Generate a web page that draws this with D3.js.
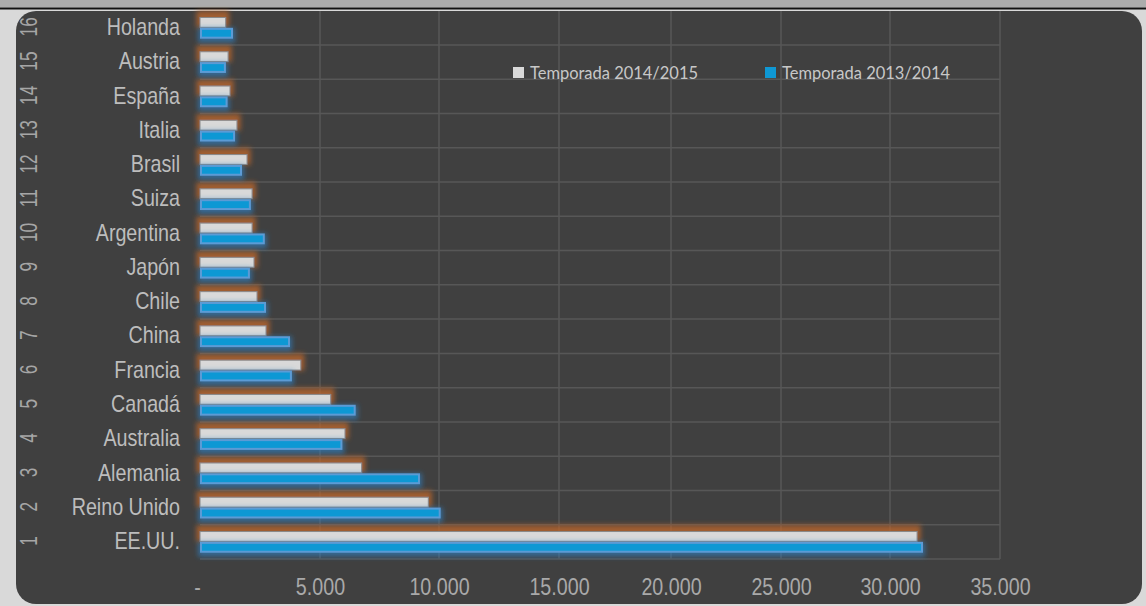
<!DOCTYPE html>
<html><head><meta charset="utf-8">
<script src="https://cdn.jsdelivr.net/npm/d3@7"></script>
<style>
html,body{margin:0;padding:0;background:#d9d9d9;}
svg{display:block;}
</style></head>
<body>
<svg id="chart" width="1146" height="606"></svg>
<script>
// ---- data ----
const categories = ["EE.UU.","Reino Unido","Alemania","Australia","Canadá","Francia","China","Chile","Japón","Argentina","Suiza","Brasil","Italia","España","Austria","Holanda"];
const ranks = ["1","2","3","4","5","6","7","8","9","10","11","12","13","14","15","16"];
const seriesNames = ["Temporada 2014/2015","Temporada 2013/2014"];
const values1415 = [31230, 9550, 6750, 6050, 5450, 4200, 2750, 2375, 2250, 2170, 2170, 1960, 1540, 1250, 1170, 1070];
const values1314 = [31500, 10070, 9200, 5940, 6500, 3830, 3750, 2750, 2080, 2700, 2120, 1750, 1460, 1150, 1080, 1375];
const tickValues = [0, 5000, 10000, 15000, 20000, 25000, 30000, 35000];

// ---- layout ----
const W = 1146, H = 606;
const plot = {left: 200, right: 1000, top: 10.7, bottom: 559};
// the reference axis is slightly uneven; tick positions as measured
const tickPixels = [200, 320, 439, 559, 671, 781, 890, 1000];
const FONT = "'Liberation Sans Narrow','Arial Narrow','Liberation Sans',sans-serif";

const svg = d3.select("#chart");
const defs = svg.append("defs");

function glow(id, color, opacity, dy, blur, dil) {
  const f = defs.append("filter").attr("id", id)
    .attr("filterUnits", "userSpaceOnUse").attr("x", 0).attr("y", 0).attr("width", W).attr("height", H);
  f.append("feMorphology").attr("in", "SourceAlpha").attr("operator", "dilate").attr("radius", dil).attr("result", "d");
  f.append("feOffset").attr("in", "d").attr("dy", dy).attr("result", "o");
  f.append("feGaussianBlur").attr("in", "o").attr("stdDeviation", blur).attr("result", "b");
  f.append("feFlood").attr("flood-color", color).attr("flood-opacity", opacity);
  f.append("feComposite").attr("in2", "b").attr("operator", "in").attr("result", "g");
  const m = f.append("feMerge");
  m.append("feMergeNode").attr("in", "g");
  m.append("feMergeNode").attr("in", "SourceGraphic");
}
glow("gOrange", "#b8652c", 0.8, -3, 2.5, 2.5);
glow("gBlue", "#2f7fc0", 0.65, 2, 2.5, 2);

// page background pieces
svg.append("rect").attr("x", 0).attr("y", 0).attr("width", W).attr("height", H).attr("fill", "#d9d9d9");
svg.append("rect").attr("x", 0).attr("y", 0).attr("width", W).attr("height", 7.5).attr("fill", "#acacac");
svg.append("rect").attr("x", 0).attr("y", 7.5).attr("width", W).attr("height", 2).attr("fill", "#111");

// dark chart area
svg.append("rect").attr("x", 16).attr("y", 11).attr("width", 1126).attr("height", 593)
  .attr("rx", 20).attr("ry", 20).attr("fill", "#404040");

const x = d3.scaleLinear().domain(tickValues).range(tickPixels);
const y = d3.scaleBand().domain(categories.slice().reverse()).range([plot.top, plot.bottom]).padding(0);
const ys = d3.scaleBand().domain(seriesNames).range([0, y.bandwidth()]).paddingInner(0).paddingOuter(0.58);

// gridlines
const g = svg.append("g");
const bounds = d3.range(categories.length + 1).map(i => plot.top + i * y.step()).filter(v => v > 11);
g.selectAll("line.h").data(bounds).join("line")
  .attr("x1", plot.left).attr("x2", plot.right)
  .attr("y1", d => d).attr("y2", d => d)
  .attr("stroke", "#575757").attr("stroke-width", 1.5);
g.selectAll("line.v").data(tickValues.slice(1)).join("line")
  .attr("x1", d => x(d)).attr("x2", d => x(d))
  .attr("y1", 11).attr("y2", plot.bottom)
  .attr("stroke", "#575757").attr("stroke-width", 1.5);

// bars
const rows = categories.map((c, i) => ({c, v1: values1415[i], v2: values1314[i]}));
svg.append("g").attr("filter", "url(#gOrange)")
  .selectAll("rect").data(rows).join("rect")
  .attr("x", x(0)).attr("y", d => y(d.c) + ys(seriesNames[0]) + 0.5)
  .attr("width", d => x(d.v1) - x(0)).attr("height", ys.bandwidth() - 1)
  .attr("fill", "#d9d9d9").attr("stroke", "#8a8a8a").attr("stroke-width", 1);
svg.append("g").attr("filter", "url(#gBlue)")
  .selectAll("rect").data(rows).join("rect")
  .attr("x", x(0) + 1).attr("y", d => y(d.c) + ys(seriesNames[1]) + 1)
  .attr("width", d => x(d.v2) - x(0) - 2).attr("height", ys.bandwidth() - 2)
  .attr("fill", "#0f98d4").attr("stroke", "#5b9bd5").attr("stroke-width", 2);

// condense text horizontally (narrow font look)
function condense(sel, k) {
  sel.each(function() {
    const len = this.getComputedTextLength();
    d3.select(this).attr("textLength", len * k).attr("lengthAdjust", "spacingAndGlyphs");
  });
}

// x axis
const loc = d3.formatLocale({thousands: ".", decimal: ",", grouping: [3], currency: ["", ""]});
const fmt = loc.format(",.0f");
const xAxis = d3.axisBottom(x).tickValues(tickValues).tickSize(0).tickPadding(0)
  .tickFormat(d => d === 0 ? "-" : fmt(d));
const xa = svg.append("g").attr("transform", `translate(0,${plot.bottom})`).call(xAxis);
xa.select(".domain").remove();
xa.selectAll("text").attr("y", 36).attr("dy", 0)
  .attr("fill", "#a9a9a9")
  .style("font-family", FONT).style("font-size", "24px");
xa.selectAll(".tick").filter(d => d === 0).select("text").attr("dx", -3);
condense(xa.selectAll("text"), 0.82);

// category labels
const yAxis = d3.axisLeft(y).tickSize(0).tickPadding(20);
const ya = svg.append("g").attr("transform", `translate(${plot.left},0)`).call(yAxis);
ya.select(".domain").remove();
ya.selectAll("text").attr("dy", "0.3em").attr("fill", "#bdbdbd")
  .style("font-family", FONT).style("font-size", "24px");
condense(ya.selectAll("text"), 0.82);

// rank labels (rotated)
const rk = svg.append("g").selectAll("text").data(categories).join("text")
  .attr("transform", (d, i) => `translate(37,${y(d) + y.bandwidth() / 2 - 1}) rotate(-90)`)
  .attr("text-anchor", "middle")
  .attr("fill", "#a6a6a6")
  .style("font-family", FONT).style("font-size", "24px")
  .text((d, i) => ranks[i]);
condense(rk, 0.72);

// legend
const legendX = [513, 765];
const legendColors = ["#d9d9d9", "#0f98d4"];
const lg = svg.append("g").selectAll("g").data(seriesNames).join("g")
  .attr("transform", (d, i) => `translate(${legendX[i]},67)`);
lg.append("rect").attr("width", 11).attr("height", 11)
  .attr("fill", (d, i) => legendColors[i]);
lg.append("text").attr("x", 17).attr("y", 12)
  .attr("fill", "#c8c8c8")
  .attr("textLength", 168).attr("lengthAdjust", "spacingAndGlyphs")
  .style("font-family", "Lato,'Open Sans',sans-serif").style("font-size", "18px")
  .text(d => d);
</script>
</body></html>
